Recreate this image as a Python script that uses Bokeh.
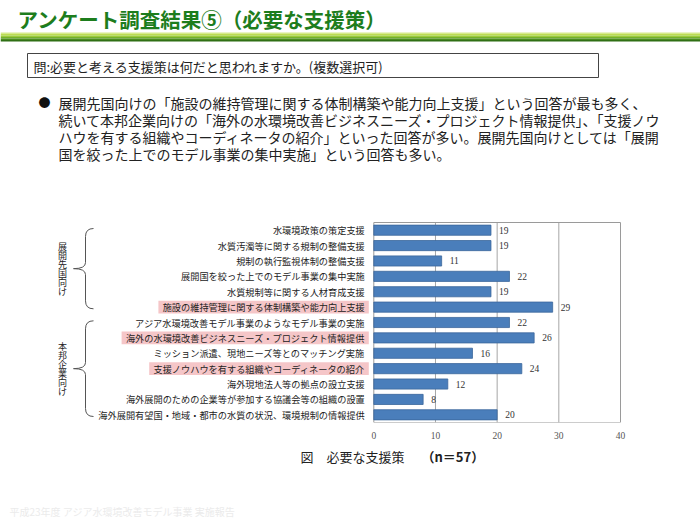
from bokeh.plotting import figure
from bokeh.models import Range1d, LinearAxis, FixedTicker, ColumnDataSource
from bokeh.layouts import column
from bokeh.embed import file_html
from bokeh.resources import INLINE
from bokeh.core.properties import value

# ---------------- data ----------------
title_text = "アンケート調査結果⑤（必要な支援策）"
question = "問:必要と考える支援策は何だと思われますか。(複数選択可)"
bullet_lines = [
    "展開先国向けの「施設の維持管理に関する体制構築や能力向上支援」という回答が最も多く、",
    "続いて本邦企業向けの「海外の水環境改善ビジネスニーズ・プロジェクト情報提供」、「支援ノウ",
    "ハウを有する組織やコーディネータの紹介」といった回答が多い。展開先国向けとしては「展開",
    "国を絞った上でのモデル事業の集中実施」という回答も多い。",
]
categories = [
    "水環境政策の策定支援",
    "水質汚濁等に関する規制の整備支援",
    "規制の執行監視体制の整備支援",
    "展開国を絞った上でのモデル事業の集中実施",
    "水質規制等に関する人材育成支援",
    "施設の維持管理に関する体制構築や能力向上支援",
    "アジア水環境改善モデル事業のようなモデル事業の実施",
    "海外の水環境改善ビジネスニーズ・プロジェクト情報提供",
    "ミッション派遣、現地ニーズ等とのマッチング実施",
    "支援ノウハウを有する組織やコーディネータの紹介",
    "海外現地法人等の拠点の設立支援",
    "海外展開のための企業等が参加する協議会等の組織の設置",
    "海外展開有望国・地域・都市の水質の状況、環境規制の情報提供",
]
values = [19, 19, 11, 22, 19, 29, 22, 26, 16, 24, 12, 8, 20]
highlight = [False, False, False, False, False, True, False, True, False, True, False, False, False]
groups = ["展開先国向け", "本邦企業向け"]
group_rows = [(0, 5), (6, 12)]
x_ticks = [0, 10, 20, 30, 40]
caption = "図　必要な支援策"
caption_n = "（n＝57）"
footer = "平成23年度 アジア水環境改善モデル事業 実施報告"

# ---------------- geometry (page pixels) ----------------
PL, PR = 0, 700
A_TOP, A_FRAME_BOTTOM, A_AXIS = 0, 422, 22
A_H = A_FRAME_BOTTOM - A_TOP + A_AXIS
B_TOP, B_BOTTOM = A_FRAME_BOTTOM + A_AXIS, 525
X0 = 373.3                    # pixel of value 0
XS = (620.0 - X0) / 40.0      # pixels per unit
Y0 = 222.0                    # top of chart frame
N = len(categories)
RS = (A_FRAME_BOTTOM - Y0) / N  # pixels per row

CJK = "Noto Sans CJK JP"
SERIF = "Liberation Serif"

pa = figure(width=PR - PL, height=A_H, output_backend="svg", toolbar_location=None,
            x_range=Range1d(PL, PR), y_range=Range1d(A_FRAME_BOTTOM, A_TOP),
            x_axis_type=None, y_axis_type=None,
            min_border_left=0, min_border_right=0, min_border_top=0,
            min_border_bottom=A_AXIS, outline_line_color=None,
            background_fill_color="white", border_fill_color="white")
pa.xgrid.visible = False
pa.ygrid.visible = False
pa.extra_x_ranges = {"chart": Range1d((PL - X0) / XS, (PR - X0) / XS)}
pa.extra_y_ranges = {"chart": Range1d((A_FRAME_BOTTOM - Y0) / RS - 0.5, (A_TOP - Y0) / RS - 0.5)}

# ---- header ----
stripe_cols = ["#d6ea8c", "#bcdc52", "#9ccb3c", "#74b02c", "#4a8c1e", "#2f6f14"]
stripe_top = [32, 33.5, 35, 36.5, 38, 39.5]
stripe_bot = [33.5, 35, 36.5, 38, 39.5, 41]
pa.quad(left=PL, right=PR, top=stripe_top, bottom=stripe_bot,
        fill_color=stripe_cols, line_color=None)
pa.text(x=[17], y=[18], text=[title_text], text_font=value(CJK),
        text_font_style="bold", text_font_size="20.5px", text_color="#1d7d1d",
        text_baseline="middle")

pa.quad(left=[27], right=[598], top=[53], bottom=[77], fill_color="white",
        line_color="#444444", line_width=1)
pa.text(x=[33], y=[65.5], text=[question], text_font=value(CJK),
        text_font_size="13px", text_color="#222222", text_baseline="middle")

pa.text(x=[38], y=[102], text=["●"], text_font=value(CJK), text_font_size="12px",
        text_color="#111111", text_baseline="middle")
pa.text(x=[58] * len(bullet_lines), y=[102 + 17.3 * i for i in range(len(bullet_lines))],
        text=bullet_lines, text_font=value(CJK), text_font_size="14px",
        text_color="#222222", text_baseline="middle")

# ---- chart ----
rows = list(range(N))
src = ColumnDataSource(dict(y=rows, v=values, lab=[str(v) for v in values], cat=categories))

hl_rows = [r for r in rows if highlight[r]]
hl_left = [X0 - 9 - len(categories[r]) * 9.2 - 4 for r in hl_rows]
pa.quad(left=hl_left, right=[X0 - 5] * len(hl_rows),
        top=[r - 0.42 for r in hl_rows], bottom=[r + 0.42 for r in hl_rows],
        fill_color="#f5c6c8", line_color=None, y_range_name="chart")

pa.segment(x0=x_ticks[1:-1], x1=x_ticks[1:-1], y0=-0.5, y1=N - 0.5,
           line_color="#a6a6a6", line_width=1, x_range_name="chart", y_range_name="chart")
pa.quad(left=[x_ticks[0]], right=[x_ticks[-1]], top=[-0.5], bottom=[N - 0.5],
        fill_color=None, line_color="#9a9a9a", line_width=1,
        x_range_name="chart", y_range_name="chart")

pa.hbar(y="y", left=0, right="v", height=0.66, source=src, fill_color="#4a7ebb",
        line_color="#3b679c", line_width=0.8, x_range_name="chart", y_range_name="chart")
pa.text(x="v", y="y", text="lab", source=src, x_offset=8, text_font=value(SERIF),
        text_font_size="9.5px", text_color="#333333", text_baseline="middle",
        x_range_name="chart", y_range_name="chart")
pa.text(x=0, y="y", text="cat", source=src, x_offset=-9, text_align="right",
        text_font=value(CJK), text_font_size="9.2px", text_color="#222222",
        text_baseline="middle", x_range_name="chart", y_range_name="chart")

# braces and group labels (page pixels)
x_tip, x_v, x_end = 73, 85, 93
for g, (r0, r1) in zip(groups, group_rows):
    T = Y0 + r0 * RS + 6
    B = Y0 + (r1 + 1) * RS - 6
    M = (T + B) / 2
    pa.quadratic(x0=[x_end, x_v, x_tip, x_v], y0=[T, M - 6, M, B - 8],
                 x1=[x_v, x_tip, x_v, x_end], y1=[T + 8, M, M + 6, B],
                 cx=[x_v, x_v, x_v, x_v], cy=[T, M, M, B],
                 line_color="#555555", line_width=1)
    pa.segment(x0=[x_v, x_v], y0=[T + 8, M + 6], x1=[x_v, x_v], y1=[M - 6, B - 8],
               line_color="#555555", line_width=1)
    chars = list(g)
    step = 9.0
    ys = [M - (len(chars) - 1) / 2 * step + i * step for i in range(len(chars))]
    pa.text(x=[62] * len(chars), y=ys, text=chars, text_font=value(CJK),
            text_font_size="9px", text_color="#222222", text_align="center",
            text_baseline="middle")

ax = LinearAxis(x_range_name="chart", ticker=FixedTicker(ticks=x_ticks),
                axis_line_color=None, major_tick_line_color=None,
                minor_tick_line_color=None, major_tick_out=0, major_tick_in=0,
                major_label_standoff=9, major_label_text_font=SERIF,
                major_label_text_font_size="9.5px", major_label_text_color="#555555")
pa.add_layout(ax, "below")

# ---- bottom part ----
pb = figure(width=PR - PL, height=B_BOTTOM - B_TOP, output_backend="svg",
            toolbar_location=None, x_range=Range1d(PL, PR), y_range=Range1d(B_BOTTOM, B_TOP),
            x_axis_type=None, y_axis_type=None, min_border=0, outline_line_color=None,
            background_fill_color="white", border_fill_color="white")
pb.xgrid.visible = False
pb.ygrid.visible = False
pb.text(x=[300], y=[456], text=[caption], text_font=value(CJK), text_font_size="13px",
        text_color="#222222", text_baseline="middle")
pb.text(x=[421], y=[456], text=[caption_n], text_font=value(CJK), text_font_size="13px",
        text_font_style="bold", text_color="#222222", text_baseline="middle")
pb.text(x=[9], y=[511], text=[footer], text_font=value(CJK), text_font_size="10px",
        text_color="#ebebeb", text_baseline="middle")

layout = column(pa, pb, spacing=0)
open("out.html", "w").write(file_html(layout, INLINE))
